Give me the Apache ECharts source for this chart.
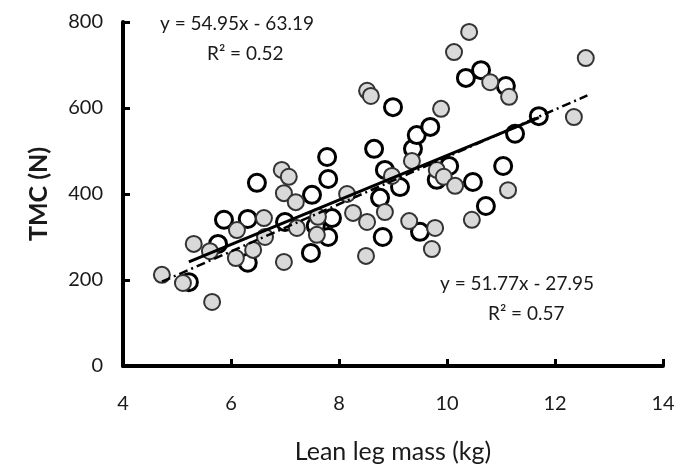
<!DOCTYPE html>
<html><head><meta charset="utf-8">
<script src="https://cdn.jsdelivr.net/npm/echarts@6/dist/echarts.min.js"></script>
<style>html,body{margin:0;padding:0;background:#fff}#c{width:681px;height:470px}</style>
</head><body><div id="c"></div>
<script>
// Open circles (x = lean leg mass kg, y = TMC N)
const openX = [5.22,5.76,5.87,6.31,6.31,6.48,7.00,7.50,7.48,7.57,7.80,7.87,7.80,7.78,8.65,9.00,8.76,8.81,8.85,9.13,9.37,9.44,9.69,9.50,9.81,10.04,10.48,10.72,10.35,10.63,11.09,11.04,11.26,11.70];
const openY = [195,284,340,342,240,426,335,398,263,326,300,344,435,486,505,602,391,300,456,416,505,537,556,312,433,465,428,372,670,688,651,465,540,581];
// Gray filled circles
const grayX = [4.72,5.11,5.31,5.65,5.61,6.09,6.11,6.41,6.61,6.63,6.98,6.98,6.94,7.07,7.20,7.22,7.61,7.59,8.15,8.26,8.52,8.50,8.52,8.59,8.85,8.98,9.30,9.35,9.72,9.78,9.89,9.81,9.94,10.15,10.46,10.13,10.41,10.80,11.15,11.13,12.35,12.57];
const grayY = [212,193,284,149,267,251,316,270,344,300,242,402,456,440,381,321,347,305,400,356,335,256,640,628,358,442,337,477,272,321,598,456,440,419,340,730,777,660,626,409,579,716];
// Trendlines: [slope, intercept, xStart, xEnd]
const solidFit = [51.77, -27.95, 5.22, 11.70];
const dashFit = [54.95, -63.19, 4.72, 12.60];
const xTicks = [4,6,8,10,12,14];
const yTicks = [0,200,400,600,800];

const zip = (a,b)=>a.map((v,i)=>[v,b[i]]);
const fitLine = f => [[f[2], f[0]*f[2]+f[1]], [f[3], f[0]*f[3]+f[1]]];

const chart = echarts.init(document.getElementById('c'));
const txt = {fontFamily:'Lato', fontSize:19, fill:'#1a1a1a'};
chart.setOption({
  animation:false,
  grid:{left:123,right:18,top:22,bottom:104},
  xAxis:{type:'value',min:4,max:14,interval:2,
    name:'Lean leg mass (kg)',nameLocation:'middle',nameGap:73,
    nameTextStyle:{fontFamily:'Lato',fontSize:25,color:'#1a1a1a'},
    axisLine:{lineStyle:{color:'#000',width:4}},
    axisTick:{inside:true,length:7,lineStyle:{color:'#000',width:3}},
    axisLabel:{fontFamily:'Lato',fontSize:20,color:'#1a1a1a',margin:28},
    splitLine:{show:false}},
  yAxis:{type:'value',min:0,max:800,interval:200,
    name:'TMC (N)',nameLocation:'middle',nameGap:72,nameRotate:90,
    nameTextStyle:{fontFamily:'Lato',fontSize:25,fontWeight:'bold',color:'#1a1a1a'},
    axisLine:{show:true,lineStyle:{color:'#000',width:4}},
    axisTick:{show:true,inside:true,length:7,lineStyle:{color:'#000',width:3}},
    axisLabel:{fontFamily:'Lato',fontSize:20,color:'#1a1a1a',margin:20},
    splitLine:{show:false}},
  series:[
    {type:'scatter',data:zip(openX,openY),symbolSize:17,
      itemStyle:{color:'#fff',borderColor:'#000',borderWidth:3,opacity:1}},
    {type:'scatter',data:zip(grayX,grayY),symbolSize:16,
      itemStyle:{color:'#d9d9d9',borderColor:'#333',borderWidth:2,opacity:1}},
    {type:'line',data:fitLine(solidFit),symbol:'none',
      lineStyle:{color:'#000',width:3}},
    {type:'line',data:fitLine(dashFit),symbol:'none',
      lineStyle:{color:'#000',width:2.5,type:[9,4,2,4]}}
  ],
  graphic:[
    {type:'text',left:160,top:14,style:Object.assign({text:'y = 54.95x - 63.19'},txt)},
    {type:'text',left:207,top:44,style:Object.assign({text:'R² = 0.52'},txt)},
    {type:'text',left:440,top:274,style:Object.assign({text:'y = 51.77x - 27.95'},txt)},
    {type:'text',left:488,top:304,style:Object.assign({text:'R² = 0.57'},txt)}
  ]
});
</script></body></html>
